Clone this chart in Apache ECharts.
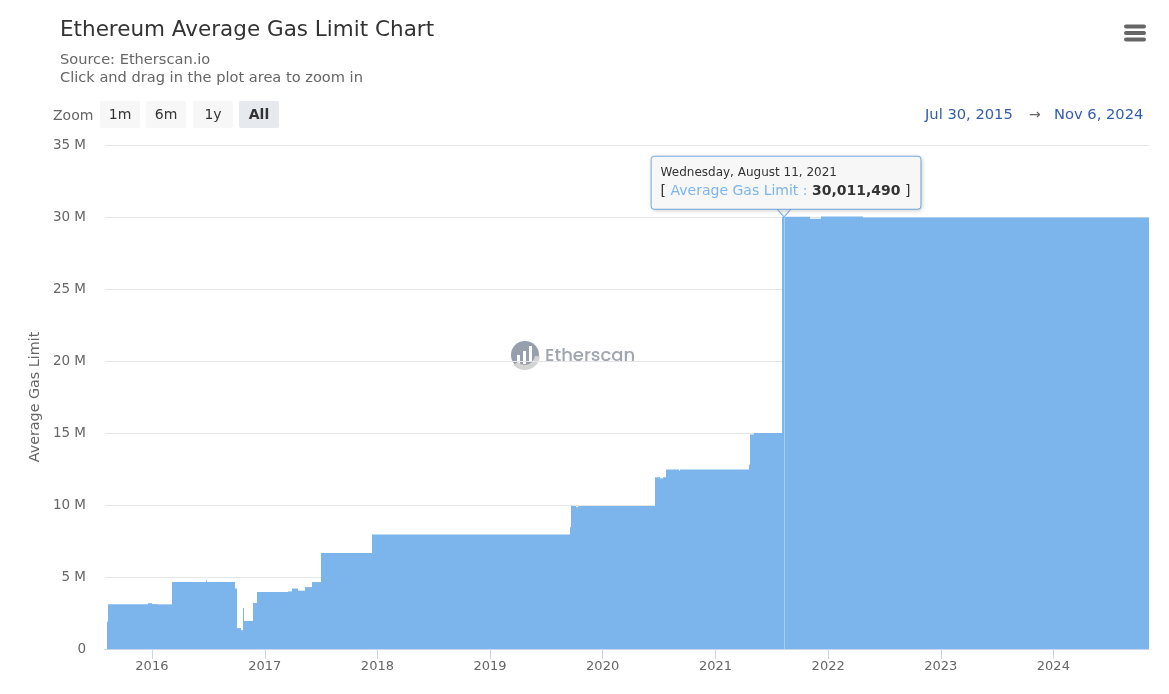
<!DOCTYPE html>
<html><head><meta charset="utf-8">
<style>html,body{margin:0;padding:0;background:#fff}#c{width:1169px;height:694px}</style>
<script src="https://cdn.jsdelivr.net/npm/echarts@6/dist/echarts.min.js"></script>
</head><body><div id="c"></div>
<script>
const dates = ['2015-08-07','2015-08-11','2015-12-20','2016-01-02','2016-01-20','2016-03-06','2016-06-23','2016-06-25','2016-09-27','2016-10-02','2016-10-17','2016-10-21','2016-10-24','2016-11-25','2016-12-07','2017-03-17','2017-03-29','2017-04-19','2017-05-11','2017-06-03','2017-07-02','2017-12-13','2017-12-15','2019-09-17','2019-09-20','2019-10-08','2019-10-12','2020-06-20','2020-07-06','2020-07-14','2020-07-25','2020-09-05','2020-09-08','2021-04-21','2021-04-23','2021-05-06','2021-08-03','2021-08-05','2021-11-04','2021-12-09','2022-04-24','2024-11-06'];
const gasLimit = [1900000,3100000,3180000,3120000,3100000,4650000,4750000,4650000,4200000,1450000,1300000,2850000,1950000,3200000,3950000,4000000,4200000,4050000,4300000,4650000,6670000,7800000,7960000,8450000,9930000,9850000,9930000,11930000,11850000,11930000,12470000,12380000,12470000,12800000,14900000,15000000,21400000,30011490,29880000,30040000,29970000,29970000];
const highlightDate = '2021-08-11';
const highlightValue = 30011490;
const zoomLabels = ['1m','6m','1y','All'];
const rangeStart = 'Jul 30, 2015', rangeEnd = 'Nov 6, 2024';
const FONT = '"DejaVu Sans", sans-serif';

const chart = echarts.init(document.getElementById('c'), null, {renderer:'canvas'});

// each value holds until the next date
const spans = dates.slice(0,-1).map((d,i)=>[d,dates[i+1],gasLimit[i]]);

const btnX = [100,146,193,239];
const graphics = [
  {type:'text',left:53,top:109,style:{text:'Zoom',font:'14px '+FONT,fill:'#666'}},
  {type:'text',left:925,top:108,style:{text:rangeStart,font:'14.7px '+FONT,fill:'#335cad'}},
  {type:'text',left:1029,top:108,style:{text:'→',font:'14px '+FONT,fill:'#666'}},
  {type:'text',left:1054,top:108,style:{text:rangeEnd,font:'14.7px '+FONT,fill:'#335cad'}},
  {type:'rect',shape:{x:1124,y:24.5,width:22,height:4,r:2},style:{fill:'#666'}},
  {type:'rect',shape:{x:1124,y:31,width:22,height:4,r:2},style:{fill:'#666'}},
  {type:'rect',shape:{x:1124,y:37.5,width:22,height:4,r:2},style:{fill:'#666'}},
  // watermark
  {type:'group',z:5,silent:true,children:[
    {type:'sector',shape:{cx:525,cy:355,r:14,r0:0,startAngle:0,endAngle:Math.PI*2},style:{fill:'#979fad'}},
    {type:'rect',shape:{x:517,y:355,width:3,height:10},style:{fill:'#fff'}},
    {type:'rect',shape:{x:523,y:351,width:3,height:13},style:{fill:'#fff'}},
    {type:'rect',shape:{x:529,y:346,width:3,height:15},style:{fill:'#fff'}},
    {type:'sector',shape:{cx:525,cy:355,r:15,r0:10,startAngle:0.1,endAngle:2.4},style:{fill:'#d4d4d4'}},
    {type:'text',left:545,top:347,style:{text:'Etherscan',font:'500 18px Poppins, "Open Sans", sans-serif',fill:'#a0a6b1'}}
  ]}
];
zoomLabels.forEach((t,i)=>{
  const sel = t==='All';
  graphics.push({type:'rect',shape:{x:btnX[i],y:101,width:40,height:27,r:2},style:{fill:sel?'#e6e9ee':'#f7f7f7'}});
  graphics.push({type:'text',x:btnX[i]+20,y:115,style:{text:t,font:(sel?'bold ':'')+'14px '+FONT,fill:'#333',align:'center',verticalAlign:'middle'}});
});

chart.setOption({
  animation:false,
  title:{text:'Ethereum Average Gas Limit Chart',left:55,top:14,itemGap:10,
    subtext:'Source: Etherscan.io\nClick and drag in the plot area to zoom in',
    textStyle:{fontFamily:FONT,fontSize:21.5,fontWeight:'normal',color:'#333'},
    subtextStyle:{fontFamily:FONT,fontSize:14.6,color:'#666',lineHeight:18}},
  grid:{left:105,right:20,top:145,bottom:45},
  xAxis:{type:'time',min:'2015-08-02',max:'2024-11-06',splitNumber:9,
    axisLine:{lineStyle:{color:'#ccd6eb'}},
    axisTick:{length:10,lineStyle:{color:'#ccd6eb'}},
    splitLine:{show:false},
    axisLabel:{formatter:'{yyyy}',color:'#666',fontFamily:FONT,fontSize:13,margin:11,fontWeight:'normal',hideOverlap:false}},
  yAxis:{type:'value',min:0,max:35000000,interval:5000000,
    name:'Average Gas Limit',nameLocation:'middle',nameGap:62,
    nameTextStyle:{color:'#666',fontFamily:FONT,fontSize:14.3},
    axisLine:{show:false},axisTick:{show:false},
    splitLine:{lineStyle:{color:'#e6e6e6',width:1}},
    axisLabel:{formatter:v=>v===0?'0':(v/1e6)+' M',color:'#666',fontFamily:FONT,fontSize:13.5,margin:19,padding:[3,0,0,0]}},
  graphic:graphics,
  series:[{type:'custom',silent:true,clip:true,
    data:spans,
    encode:{x:[0,1],y:2},
    renderItem:function(params,api){
      const a=api.coord([api.value(0),api.value(2)]);
      const b=api.coord([api.value(1),0]);
      const x0=Math.round(a[0]), x1=Math.round(b[0]);
      return {type:'rect',shape:{x:x0,y:a[1],width:Math.max(x1-x0,1),height:b[1]-a[1]},style:{fill:'#7cb5ec'}};
    },
    itemStyle:{color:'#7cb5ec'},
    markLine:{silent:true,symbol:'none',label:{show:false},
      lineStyle:{color:'#a8cdf2',width:1,type:'solid'},
      data:[[{coord:[highlightDate,0]},{coord:[highlightDate,highlightValue]}]]},
    markPoint:{silent:true,data:[
      {coord:[highlightDate,highlightValue],symbol:'triangle',symbolSize:[16,9],symbolRotate:180,symbolOffset:[0,-4.5],
       itemStyle:{color:'#f7f7f7',borderColor:'#7cb5ec',borderWidth:1},label:{show:false}},
      {coord:[highlightDate,highlightValue],symbol:'circle',symbolSize:1,itemStyle:{color:'transparent'},
       label:{show:true,position:'top',distance:7.5,offset:[2,0],
        formatter:'{d|Wednesday, August 11, 2021}\n{b|[ }{n|Average Gas Limit : }{v|30,011,490}{b| ]}',
        backgroundColor:'#f7f7f7',borderColor:'#7cb5ec',borderWidth:1,borderRadius:3,
        padding:[7,10,7,9],shadowColor:'rgba(0,0,0,0.16)',shadowBlur:4,shadowOffsetX:1,shadowOffsetY:1,
        rich:{d:{fontFamily:FONT,fontSize:12,color:'#333',lineHeight:18,align:'left'},
              b:{fontFamily:FONT,fontSize:14,color:'#333',lineHeight:20},
              n:{fontFamily:FONT,fontSize:14,color:'#7cb5ec',lineHeight:20},
              v:{fontFamily:FONT,fontSize:14,color:'#333',fontWeight:'bold',lineHeight:20}}}}
    ]}
  }]
});
</script></body></html>
